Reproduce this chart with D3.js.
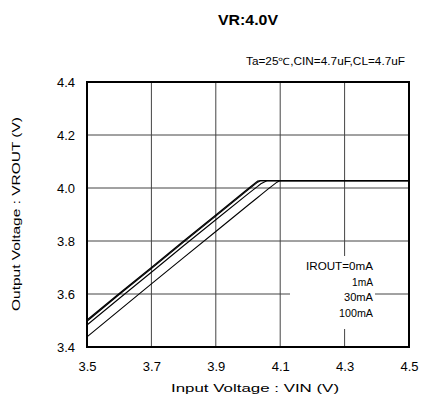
<!DOCTYPE html>
<html><head><meta charset="utf-8">
<script src="https://cdn.jsdelivr.net/npm/d3@7"></script>
<style>body{margin:0;background:#fff}svg{display:block}text{font-family:"Liberation Sans",Arial,sans-serif;fill:#000}</style>
</head><body>
<svg id="c" width="422" height="412"></svg>
<script>
const title = "VR:4.0V";
const subtitle = "Ta=25\u2103,CIN=4.7uF,CL=4.7uF";
const xTicks = [3.5, 3.7, 3.9, 4.1, 4.3, 4.5];
const yTicks = [3.4, 3.6, 3.8, 4.0, 4.2, 4.4];
const legendLabels = ["IROUT=0mA", "1mA", "30mA", "100mA"];
const vin = [3.5, 3.6, 3.7, 3.8, 3.9, 4.0, 4.03, 4.04, 4.06, 4.09, 4.1, 4.2, 4.3, 4.4, 4.5];
const out0mA   = [3.502, 3.602, 3.700, 3.800, 3.898, 3.997, 4.026, 4.028, 4.028, 4.028, 4.028, 4.028, 4.028, 4.028, 4.028];
const out1mA   = [3.497, 3.598, 3.696, 3.796, 3.894, 3.993, 4.022, 4.028, 4.028, 4.028, 4.028, 4.028, 4.028, 4.028, 4.028];
const out30mA  = [3.483, 3.583, 3.682, 3.782, 3.880, 3.978, 4.006, 4.016, 4.028, 4.028, 4.028, 4.028, 4.028, 4.028, 4.028];
const out100mA = [3.438, 3.538, 3.638, 3.737, 3.836, 3.935, 3.964, 3.974, 3.994, 4.022, 4.028, 4.028, 4.028, 4.028, 4.028];
const series = [out0mA, out1mA, out30mA, out100mA];

const svg = d3.select("#c");
const L = 87, R = 409, T = 82, B = 347;
const x = d3.scaleLinear().domain([3.5, 4.5]).range([L, R]);
const y = d3.scaleLinear().domain([3.4, 4.4]).range([B, T]);

svg.append("text").attr("x", 248).attr("y", 25).attr("text-anchor", "middle")
  .style("font-size", "15px").style("font-weight", "bold")
  .attr("textLength", 60).attr("lengthAdjust", "spacingAndGlyphs").text(title);
svg.append("text").attr("x", 246).attr("y", 65)
  .style("font-size", "10px")
  .attr("textLength", 159).attr("lengthAdjust", "spacingAndGlyphs").text(subtitle);

// grid
const g = svg.append("g");
g.selectAll("line.v").data(xTicks.slice(1, -1)).enter().append("line")
  .attr("x1", d => x(d)).attr("x2", d => x(d)).attr("y1", T).attr("y2", B)
  .attr("stroke", "#444").attr("stroke-width", 1);
g.selectAll("line.h").data(yTicks.slice(1, -1)).enter().append("line")
  .attr("y1", d => y(d)).attr("y2", d => y(d)).attr("x1", L).attr("x2", R)
  .attr("stroke", "#444").attr("stroke-width", 1);

// legend background
svg.append("rect").attr("x", 290).attr("y", 256).attr("width", 85).attr("height", 73).attr("fill", "#fff");

// lines
const line = d3.line().x((d, i) => x(vin[i])).y(d => y(d));
svg.selectAll("path.s").data(series).enter().append("path")
  .attr("d", d => line(d)).attr("fill", "none").attr("stroke", "#000").attr("stroke-width", 1.1);

// border
svg.append("rect").attr("x", L).attr("y", T).attr("width", R - L).attr("height", B - T)
  .attr("fill", "none").attr("stroke", "#000").attr("stroke-width", 2);

// axes labels
const xa = d3.axisBottom(x).tickValues(xTicks).tickFormat(d3.format(".1f")).tickSize(0).tickPadding(15);
const xg = svg.append("g").attr("transform", `translate(0,${B})`).call(xa);
xg.select(".domain").remove();
xg.selectAll("text").style("font-size", "13px").style("font-family", "Liberation Sans, Arial, sans-serif");
const ya = d3.axisLeft(y).tickValues(yTicks).tickFormat(d3.format(".1f")).tickSize(0).tickPadding(12);
const yg = svg.append("g").attr("transform", `translate(${L},0)`).call(ya);
yg.select(".domain").remove();
yg.selectAll("text").style("font-size", "13px").style("font-family", "Liberation Sans, Arial, sans-serif");

svg.append("text").attr("x", 171).attr("y", 392)
  .style("font-size", "11.5px")
  .attr("textLength", 168).attr("lengthAdjust", "spacingAndGlyphs").text("Input Voltage : VIN (V)");
svg.append("text").attr("transform", "translate(20,311) rotate(-90)")
  .style("font-size", "11.5px")
  .attr("textLength", 194).attr("lengthAdjust", "spacingAndGlyphs").text("Output Voltage : VROUT (V)");

// legend
const legendWidths = [67, 21, 29, 34];
svg.selectAll("text.lg").data(legendLabels).enter().append("text")
  .attr("x", (d, i) => 373 - legendWidths[i]).attr("y", (d, i) => 270 + i * 15.7)
  .style("font-size", "10.5px")
  .attr("textLength", (d, i) => legendWidths[i]).attr("lengthAdjust", "spacingAndGlyphs").text(d => d);
</script>
</body></html>
